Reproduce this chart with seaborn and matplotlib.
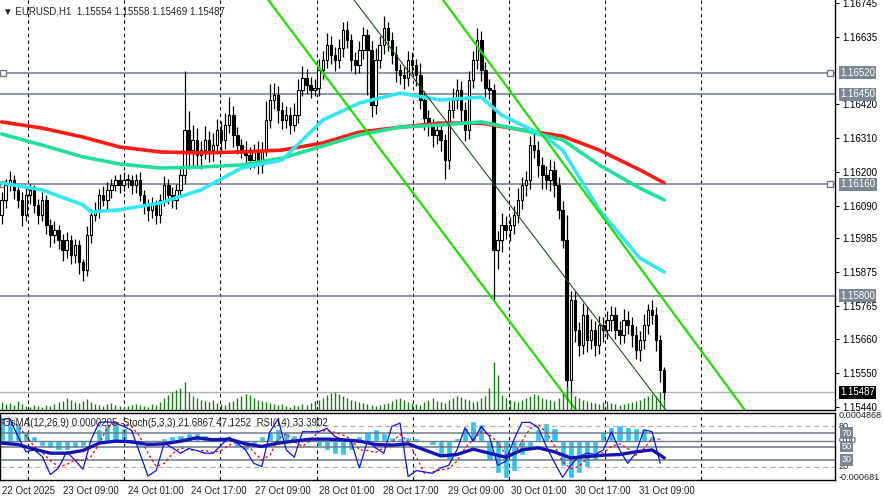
import numpy as np
import pandas as pd
import matplotlib
matplotlib.use("Agg")
import matplotlib.pyplot as plt
import seaborn as sns

# ---------------- data ----------------
closes = [1.16109,1.16157,1.16173,1.16141,1.16109,1.16060,1.16125,1.16141,1.16093,1.16060,
          1.16109,1.16028,1.15996,1.16012,1.15980,1.15947,1.15980,1.15931,1.15963,1.15908,
          1.15882,1.15996,1.16060,1.16077,1.16125,1.16109,1.16141,1.16157,1.16173,1.16157,
          1.16173,1.16173,1.16157,1.16173,1.16125,1.16093,1.16077,1.16093,1.16060,1.16109,
          1.16157,1.16125,1.16109,1.16141,1.16190,1.16335,1.16270,1.16302,1.16254,1.16270,
          1.16302,1.16270,1.16286,1.16335,1.16302,1.16351,1.16383,1.16319,1.16286,1.16270,
          1.16254,1.16238,1.16270,1.16222,1.16270,1.16367,1.16432,1.16448,1.16399,1.16367,
          1.16383,1.16351,1.16383,1.16464,1.16503,1.16480,1.16464,1.16470,1.16529,1.16561,
          1.16609,1.16577,1.16561,1.16600,1.16658,1.16625,1.16561,1.16545,1.16593,1.16642,
          1.16593,1.16416,1.16561,1.16609,1.16664,1.16625,1.16577,1.16529,1.16513,1.16503,
          1.16561,1.16545,1.16513,1.16432,1.16374,1.16351,1.16319,1.16335,1.16302,1.16238,
          1.16399,1.16432,1.16464,1.16399,1.16335,1.16496,1.16561,1.16625,1.16529,1.16470,
          1.16464,1.15947,1.15980,1.16028,1.16012,1.16028,1.16060,1.16109,1.16157,1.16173,
          1.16286,1.16270,1.16222,1.16190,1.16173,1.16206,1.16157,1.16077,1.15980,1.15527,
          1.15786,1.15689,1.15640,1.15737,1.15656,1.15689,1.15640,1.15705,1.15689,1.15721,
          1.15737,1.15689,1.15672,1.15721,1.15705,1.15672,1.15624,1.15656,1.15705,1.15754,
          1.15737,1.15656,1.15559,1.15487]
first_open = 1.16060
wick_up = [25,20,30,15,20,25,30,20,15,20, 25,15,20,30,15,20,25,15,20,15,
           10,30,20,25,20,30,25,20,15,20, 25,20,15,20,25,15,20,25,15,20,
           30,20,25,20,30,190,60,50,40,30, 45,30,40,35,30,40,60,30,25,20,
           30,25,20,30,25,60,50,40,30,25, 30,25,40,35,40,30,25,30,35,30,
           40,30,25,30,25,30,20,25,30,25, 20,30,40,30,40,20,25,30,20,25,
           30,25,20,40,30,25,20,30,25,20, 30,40,35,30,25,30,30,40,30,25,
           30,20,30,40,30,25,30,40,25,30, 30,40,30,25,30,35,30,25,30,80,
           30,30,25,40,30,35,30,30,25,30, 30,25,30,35,30,25,30,30,35,20,
           30,25,15,10]
wick_dn = [30,25,20,30,25,35,20,30,25,30, 20,30,40,25,30,35,25,30,25,40,
           35,20,25,20,25,20,30,25,20,25, 20,25,30,25,20,30,35,25,30,25,
           20,30,25,30,20,30,60,50,40,45, 30,40,35,30,40,30,25,40,30,25,
           40,30,25,30,25,20,25,30,40,30, 25,30,20,25,20,30,25,20,25,30,
           25,30,35,25,30,25,35,30,25,30, 146,40,30,25,30,35,30,40,30,35,
           25,30,35,30,40,35,40,30,35,60, 30,25,30,40,35,30,25,30,35,30,
           30,160,60,40,30,35,30,25,30,35, 30,25,40,45,30,35,40,30,25,64,
           50,40,35,30,40,30,35,30,40,30, 35,30,30,25,30,40,30,35,30,30,
           30,35,40,25]
volumes = [8,6,7,5,9,6,4,3,5,4, 3,5,4,6,8,9,12,10,8,7, 9,11,8,6,5,4,6,7,5,4,
           3,4,5,6,5,4,3,6,5,8, 12,15,18,20,22,28,18,14,12,10, 9,8,10,7,6,5,8,9,12,14,
           16,15,12,10,9,8,7,6,5,6, 4,3,5,4,6,5,7,9,10,12, 15,17,18,16,14,12,10,9,8,7,
           6,5,4,5,6,7,9,11,12,10, 8,7,6,5,8,10,12,9,8,7, 10,12,14,13,11,10,8,9,12,14,
           22,48,35,15,12,10,9,8,10,12, 14,16,15,12,11,10,9,12,16,24, 18,14,12,10,9,8,7,6,8,9,
           7,6,5,6,7,8,9,10,12,14, 16,14,18,10]
ma_red_idx = [0,10,20,29,39,49,59,69,79,88,98,108,118,128,138,147,157,163]
ma_red = [1.16361,1.16341,1.16312,1.16280,1.16264,1.16261,1.16264,1.16270,1.16293,
          1.16328,1.16344,1.16357,1.16357,1.16335,1.16315,1.16270,1.16206,1.16164]
ma_green = [1.16322,1.16286,1.16248,1.16225,1.16212,1.16215,1.16222,1.16244,1.16283,
            1.16319,1.16344,1.16351,1.16361,1.16335,1.16303,1.16222,1.16147,1.16109]
ma_cyan_idx = [0,10,20,22,29,39,49,59,69,79,88,98,108,118,123,133,138,147,157,163]
ma_cyan = [1.16164,1.16141,1.16093,1.16070,1.16077,1.16099,1.16141,1.16212,1.16238,1.16367,
           1.16422,1.16454,1.16432,1.16441,1.16383,1.16319,1.16270,1.16077,1.15921,1.15876]
levels = [1.16520, 1.16450, 1.16160, 1.15800]
current_price = 1.15487
price_ticks = [1.16745,1.16635,1.16420,1.16310,1.16200,1.16090,1.15985,1.15875,
               1.15765,1.15660,1.15550,1.15440]
channels = [((65.6, 1.16755), (141.3, 1.15430)),
            ((86.7, 1.16755), (163.4, 1.15430)),
            ((108.6, 1.16755), (182.8, 1.15430))]
osma = [4.1,3.5,2.9,1.6,0.9,-0.9,-1.3,-1.6,-1.6,-1.3,-0.9,-0.4,2.0,2.9,3.2,2.3,-0.5,-0.9,-0.5,0.2,
        0.5,0.9,1.1,1.4,1.3,1.1,0.7,0.2,0.0,-1.1,-1.6,-1.1,0.9,1.6,2.0,1.6,1.1,0.5,-0.2,-0.9,
        -1.6,-2.3,-2.5,-1.6,0.9,1.6,2.0,1.4,0.7,0.5,0.7,0.5,0.2,-0.7,-2.5,-3.4,0.5,2.3,3.4,2.9,
        -3.4,-5.6,-6.5,-5.2,-2.5,-1.3,2.0,3.2,2.3,-4.3,-6.5,-5.6,-4.5,-3.4,1.6,2.5,2.7,2.5,2.3,2.0,
        0.9,0.2]
stoch_k = [90,92,65,42,45,35,8,18,42,30,16,60,86,87,85,80,74,40,6,14,
           55,48,40,47,44,40,40,52,64,55,45,25,20,72,91,45,34,72,72,72,
           77,65,60,57,18,58,48,40,80,85,5,14,12,10,18,22,45,78,58,80,
           65,22,28,60,86,86,78,50,26,4,22,35,40,38,45,72,45,25,40,75,
           72,25]
stoch_d = [85,88,82,66,50,41,29,20,23,30,29,35,54,78,86,84,80,65,40,20,
           25,39,48,45,44,44,41,44,52,57,55,42,30,37,61,69,57,50,59,72,
           74,71,67,61,45,44,41,48,56,68,57,35,10,12,15,17,28,48,60,72,
           68,56,38,37,58,77,83,71,51,27,17,20,32,38,41,50,54,47,37,47,
           62,61]
rsi = [55,53,46,40,40,44,55,58,57,53,54,58,63,60,61,54,50,55,58,61,
       61,60,58,53,52,54,45,36,38,46,40,34,45,48,42,33,35,37,38,42,45,33]
rsi_idx = list(range(0, 164, 4)) + [163]
xtick_pos = [0,15.2,31.2,46.7,62.4,78.1,93.9,109.8,125.3,141,156.8]
xtick_lab = ["22 Oct 2025","23 Oct 09:00","24 Oct 01:00","24 Oct 17:00","27 Oct 09:00",
             "28 Oct 01:00","28 Oct 17:00","29 Oct 09:00","30 Oct 01:00","30 Oct 17:00",
             "31 Oct 09:00"]
vgrid = [6.6,30.2,53.8,77.6,101.2,124.8,148.4,172.0]

# ---------------- figure ----------------
sns.set_style("white")
plt.rcParams['font.family'] = ['Liberation Sans', 'DejaVu Sans']
FS = 7.0
W, H = 884, 496
fig = plt.figure(figsize=(W/100, H/100), dpi=100)
XMIN, XMAX = -0.4, 205.0
ax = fig.add_axes([0, (H-410)/H, 835/W, 410/H])
axi = fig.add_axes([0, (H-480)/H, 835/W, 67/H])
LVL = '#6e7b8b'

n = len(closes)
idx = np.arange(n)
opens = [first_open] + closes[:-1]
highs = [max(o, c) + u*1e-5 for o, c, u in zip(opens, closes, wick_up)]
lows = [min(o, c) - d*1e-5 for o, c, d in zip(opens, closes, wick_dn)]
df = pd.DataFrame(dict(i=idx, o=opens, c=closes, h=highs, l=lows))

YLO, YHI = 1.15430, 1.16755
axv = ax.twinx()
axv.vlines(idx, 0, volumes, color='#1a7a1a', lw=1.0, zorder=1)
axv.set_ylim(0, 410)
axv.axis('off')

for g in vgrid:
    ax.axvline(g, color='black', ls=(0, (3, 3)), lw=0.8, zorder=0)
    axi.axvline(g, color='black', ls=(0, (3, 3)), lw=0.8, zorder=0)

for lv in levels:
    ax.axhline(lv, color=LVL, lw=1.1, zorder=2)
ax.axhline(current_price, color='#b0b0b0', lw=1, zorder=2)
for lv in (1.16520, 1.16160):
    ax.plot([0.3, 203.8], [lv, lv], ls='none', marker='s', ms=4, mfc='white', mec=LVL, zorder=3)

ax.vlines(df.i, df.l, df.h, color='black', lw=0.9, zorder=4)
up = df[df.c >= df.o]
dn = df[df.c < df.o]
ax.bar(up.i, (up.c - up.o).clip(lower=2e-5), bottom=up.o, width=0.6, color='white',
       edgecolor='black', lw=0.8, zorder=5)
ax.bar(dn.i, (dn.o - dn.c), bottom=dn.c, width=0.6, color='black',
       edgecolor='black', lw=0.8, zorder=5)

sns.lineplot(x=ma_red_idx, y=ma_red, ax=ax, color='#ff1a1a', lw=2.6, zorder=6)
sns.lineplot(x=ma_red_idx, y=ma_green, ax=ax, color='#22e09a', lw=2.6, zorder=6)
sns.lineplot(x=ma_cyan_idx, y=ma_cyan, ax=ax, color='#33e6f0', lw=2.6, zorder=6)

for k, (p1, p2) in enumerate(channels):
    if k == 1:
        ax.plot([p1[0], p2[0]], [p1[1], p2[1]], color='#1f4f1f', lw=0.8, zorder=7)
    else:
        ax.plot([p1[0], p2[0]], [p1[1], p2[1]], color='#22dd00', lw=1.6, zorder=7)

ax.set_xlim(XMIN, XMAX)
ax.set_ylim(YLO, YHI)
ax.set_xticks([])
ax.yaxis.tick_right()
ax.set_yticks(price_ticks)
ax.set_yticklabels([f"{p:.5f}" for p in price_ticks], fontsize=FS)
ax.tick_params(axis='y', length=3, pad=2, direction='out', colors='black')
for s in ['top', 'left']:
    ax.spines[s].set_visible(False)
for s in ['right', 'bottom']:
    ax.spines[s].set_color('black'); ax.spines[s].set_linewidth(1)

def rlabel(a, y, txt, fc, tc='white', dx=0.006, fs=FS):
    a.text(1.0 + dx, y, txt, transform=a.get_yaxis_transform(), fontsize=fs, color=tc,
           va='center', ha='left',
           bbox=dict(boxstyle='square,pad=0.15', fc=fc, ec='none'), zorder=10, clip_on=False)
for lv in levels:
    rlabel(ax, lv, f"{lv:.5f}", '#7b8794')
rlabel(ax, current_price, f"{current_price:.5f}", 'black')

ax.text(0.004, 0.985, "▼ EURUSD,H1  1.15554 1.15558 1.15469 1.15487", transform=ax.transAxes,
        fontsize=FS, va='top', ha='left')

# ---------------- indicator ----------------
axo = axi.twinx()
axo.set_ylim(-6.81, 4.868)
axo.bar(np.arange(0, 164, 2), osma, width=1.5, color='#2ec4f0', zorder=1)
axo.axis('off')
axi.set_zorder(axo.get_zorder() + 1); axi.patch.set_visible(False)
for lv, ls in [(80, 'dash'), (70, 's'), (50, 's'), (30, 's'), (20, 'dash')]:
    if ls == 'dash':
        axi.axhline(lv, color='#b0b0b0', ls=(0, (4, 3)), lw=0.9, zorder=1)
    else:
        axi.axhline(lv, color=LVL, lw=1.1, zorder=1)
axi.axhline(58, color=LVL, lw=1.0, zorder=1)
sns.lineplot(x=list(range(0, 164, 2)), y=stoch_d, ax=axi, color='red', lw=0.9,
             ls=(0, (2, 2)), zorder=3)
sns.lineplot(x=list(range(0, 164, 2)), y=stoch_k, ax=axi, color='#1010ee', lw=0.9, zorder=4)
sns.lineplot(x=rsi_idx, y=rsi, ax=axi, color='#1414b4', lw=2.4, zorder=5)
axi.set_xlim(XMIN, XMAX)
axi.set_ylim(0, 100)
axi.set_yticks([])
axi.set_xticks(xtick_pos)
axi.set_xticklabels(xtick_lab, fontsize=FS, ha='left')
axi.tick_params(axis='x', length=3, pad=1.5, direction='out')
for s in axi.spines.values():
    s.set_color('black'); s.set_linewidth(1)
axi.text(0.004, 0.93, "OsMA(12,26,9) 0.0000205  Stoch(5,3,3) 21.6867 47.1252  RSI(14) 33.3902",
         transform=axi.transAxes, fontsize=FS, va='top', ha='left', zorder=8)
for y, t, box in [(97, "0.0004868", False), (80, "80", False), (70, "70", True),
                  (59, "0.00", False), (50, "50", True), (30, "30", True), (20, "20", False),
                  (3, "-0.000681", False)]:
    if box:
        rlabel(axi, y, t, '#7b8794', dx=0.008, fs=FS - 0.4)
    else:
        axi.text(1.004, y, t, transform=axi.get_yaxis_transform(), fontsize=FS - 0.4,
                 va='center', ha='left', clip_on=False)

fig.savefig("out.png", dpi=100)
